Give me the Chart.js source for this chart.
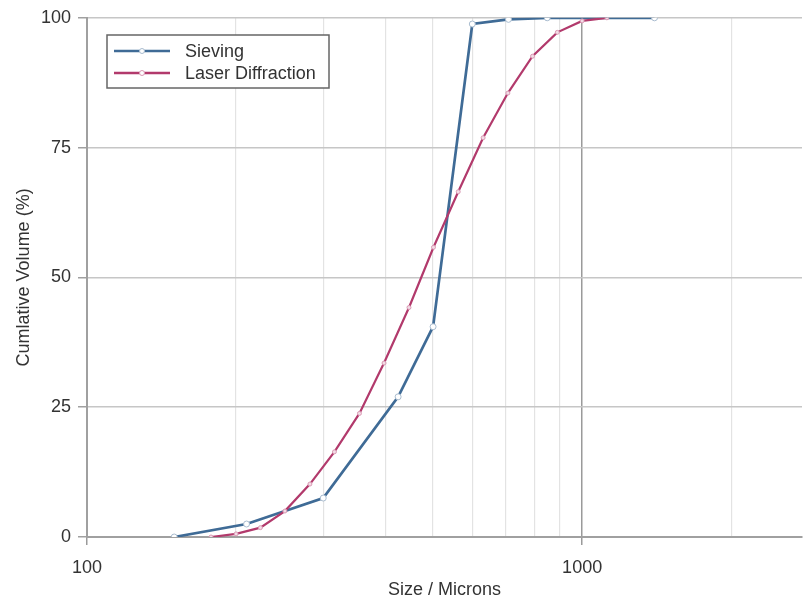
<!DOCTYPE html>
<html>
<head>
<meta charset="utf-8">
<script src="https://cdn.jsdelivr.net/npm/chart.js@4.4.1/dist/chart.umd.min.js"></script>
<style>
  html, body { margin: 0; padding: 0; background: #fff; }
  #wrap { width: 807px; height: 603px; position: relative; }
</style>
</head>
<body>
<div id="wrap"><canvas id="chart"></canvas></div>
<script>
// --- data ---
const sieveSize = [150, 210, 300, 425, 500, 600, 710, 850, 1400];
const sieveCum = [0, 2.5, 7.5, 27, 40.5, 98.8, 99.7, 100, 100];

const laserSize = [178, 200, 224, 251, 282, 316, 355, 398, 447, 501, 562, 631, 708, 794, 891, 1000, 1122];
const laserCum = [0, 0.6, 1.8, 5.0, 10.2, 16.4, 23.8, 33.5, 44.2, 55.8, 66.5, 76.9, 85.5, 92.6, 97.2, 99.4, 100];

const xTicks = [100, 200, 300, 400, 500, 600, 700, 800, 900, 1000, 2000];
const xLabels = [100, 1000];
const yTicks = [0, 25, 50, 75, 100];

const FONT = '"Liberation Sans", Arial, sans-serif';
const BLUE = '#3f6b96';
const RED = '#b23a6c';

// legend drawn as a boxed overlay in the top-left of the plot
const boxLegend = {
  id: 'boxLegend',
  afterDraw(chart) {
    const ctx = chart.ctx;
    ctx.save();
    ctx.strokeStyle = '#666';
    ctx.lineWidth = 1.5;
    ctx.fillStyle = '#fff';
    ctx.fillRect(107, 35, 222, 53);
    ctx.strokeRect(107, 35, 222, 53);
    ctx.font = '18px ' + FONT;
    ctx.textBaseline = 'middle';
    [0, 1].forEach((i) => {
      const ds = chart.data.datasets[i];
      const y = 51 + i * 22;
      ctx.strokeStyle = ds.borderColor;
      ctx.lineWidth = 2.5;
      ctx.beginPath(); ctx.moveTo(114, y); ctx.lineTo(170, y); ctx.stroke();
      ctx.fillStyle = '#fff';
      ctx.strokeStyle = ds.pointBorderColor;
      ctx.lineWidth = 1;
      ctx.beginPath(); ctx.arc(142, y, 2.5, 0, Math.PI * 2); ctx.fill(); ctx.stroke();
      ctx.fillStyle = '#333';
      ctx.fillText(ds.label, 185, y + 1);
    });
    ctx.restore();
  },
};

new Chart(document.getElementById('chart'), {
  type: 'line',
  data: {
    datasets: [
      {
        label: 'Sieving',
        data: sieveSize.map((s, i) => ({ x: s, y: sieveCum[i] })),
        borderColor: BLUE, borderWidth: 2.7,
        pointRadius: 3, pointBackgroundColor: '#fff', pointBorderColor: '#a9bccf', pointBorderWidth: 1,
        tension: 0, order: 1,
      },
      {
        label: 'Laser Diffraction',
        data: laserSize.map((s, i) => ({ x: s, y: laserCum[i] })),
        borderColor: RED, borderWidth: 2.2,
        pointRadius: 2, pointBackgroundColor: '#f3dbe5', pointBorderColor: '#d99ab4', pointBorderWidth: 1,
        tension: 0, order: 0,
      },
    ],
  },
  options: {
    responsive: true, maintainAspectRatio: false, animation: false,
    layout: { padding: { top: 16, right: 0, bottom: 0, left: 0 } },
    plugins: { legend: { display: false }, tooltip: { enabled: false } },
    scales: {
      x: {
        type: 'logarithmic', min: 100, max: 2780,
        afterBuildTicks: (scale) => { scale.ticks = xTicks.map((v) => ({ value: v })); },
        afterFit: (scale) => { scale.height = 66; },
        ticks: {
          autoSkip: false, maxRotation: 0, padding: 12, color: '#333',
          font: { family: FONT, size: 18 },
          callback: (v) => (xLabels.includes(v) ? String(v) : ''),
        },
        grid: {
          color: (c) => (c.tick && xLabels.includes(c.tick.value) ? '#9a9a9a' : '#e3e3e3'),
          lineWidth: (c) => (c.tick && xLabels.includes(c.tick.value) ? 1.5 : 1.2),
          tickColor: (c) => (c.tick && xLabels.includes(c.tick.value) ? '#9a9a9a' : 'rgba(0,0,0,0)'),
          tickLength: 8,
        },
        border: { color: '#a0a0a0', width: 2 },
        title: { display: true, text: 'Size / Microns', color: '#333', font: { family: FONT, size: 18 }, padding: { top: 0, bottom: 2 } },
      },
      y: {
        min: 0, max: 100,
        afterBuildTicks: (scale) => { scale.ticks = yTicks.map((v) => ({ value: v })); },
        afterFit: (scale) => { scale.width = 87; },
        ticks: { padding: 7, color: '#333', font: { family: FONT, size: 18 } },
        grid: { color: '#c6c6c6', lineWidth: 1.5, tickColor: '#a0a0a0', tickLength: 9 },
        border: { color: '#a0a0a0', width: 2 },
        title: {
          display: true, text: 'Cumlative Volume (%)', color: '#333',
          font: { family: FONT, size: 18 }, padding: { top: 13, bottom: 0 },
        },
      },
    },
  },
  plugins: [boxLegend],
});
</script>
</body>
</html>
